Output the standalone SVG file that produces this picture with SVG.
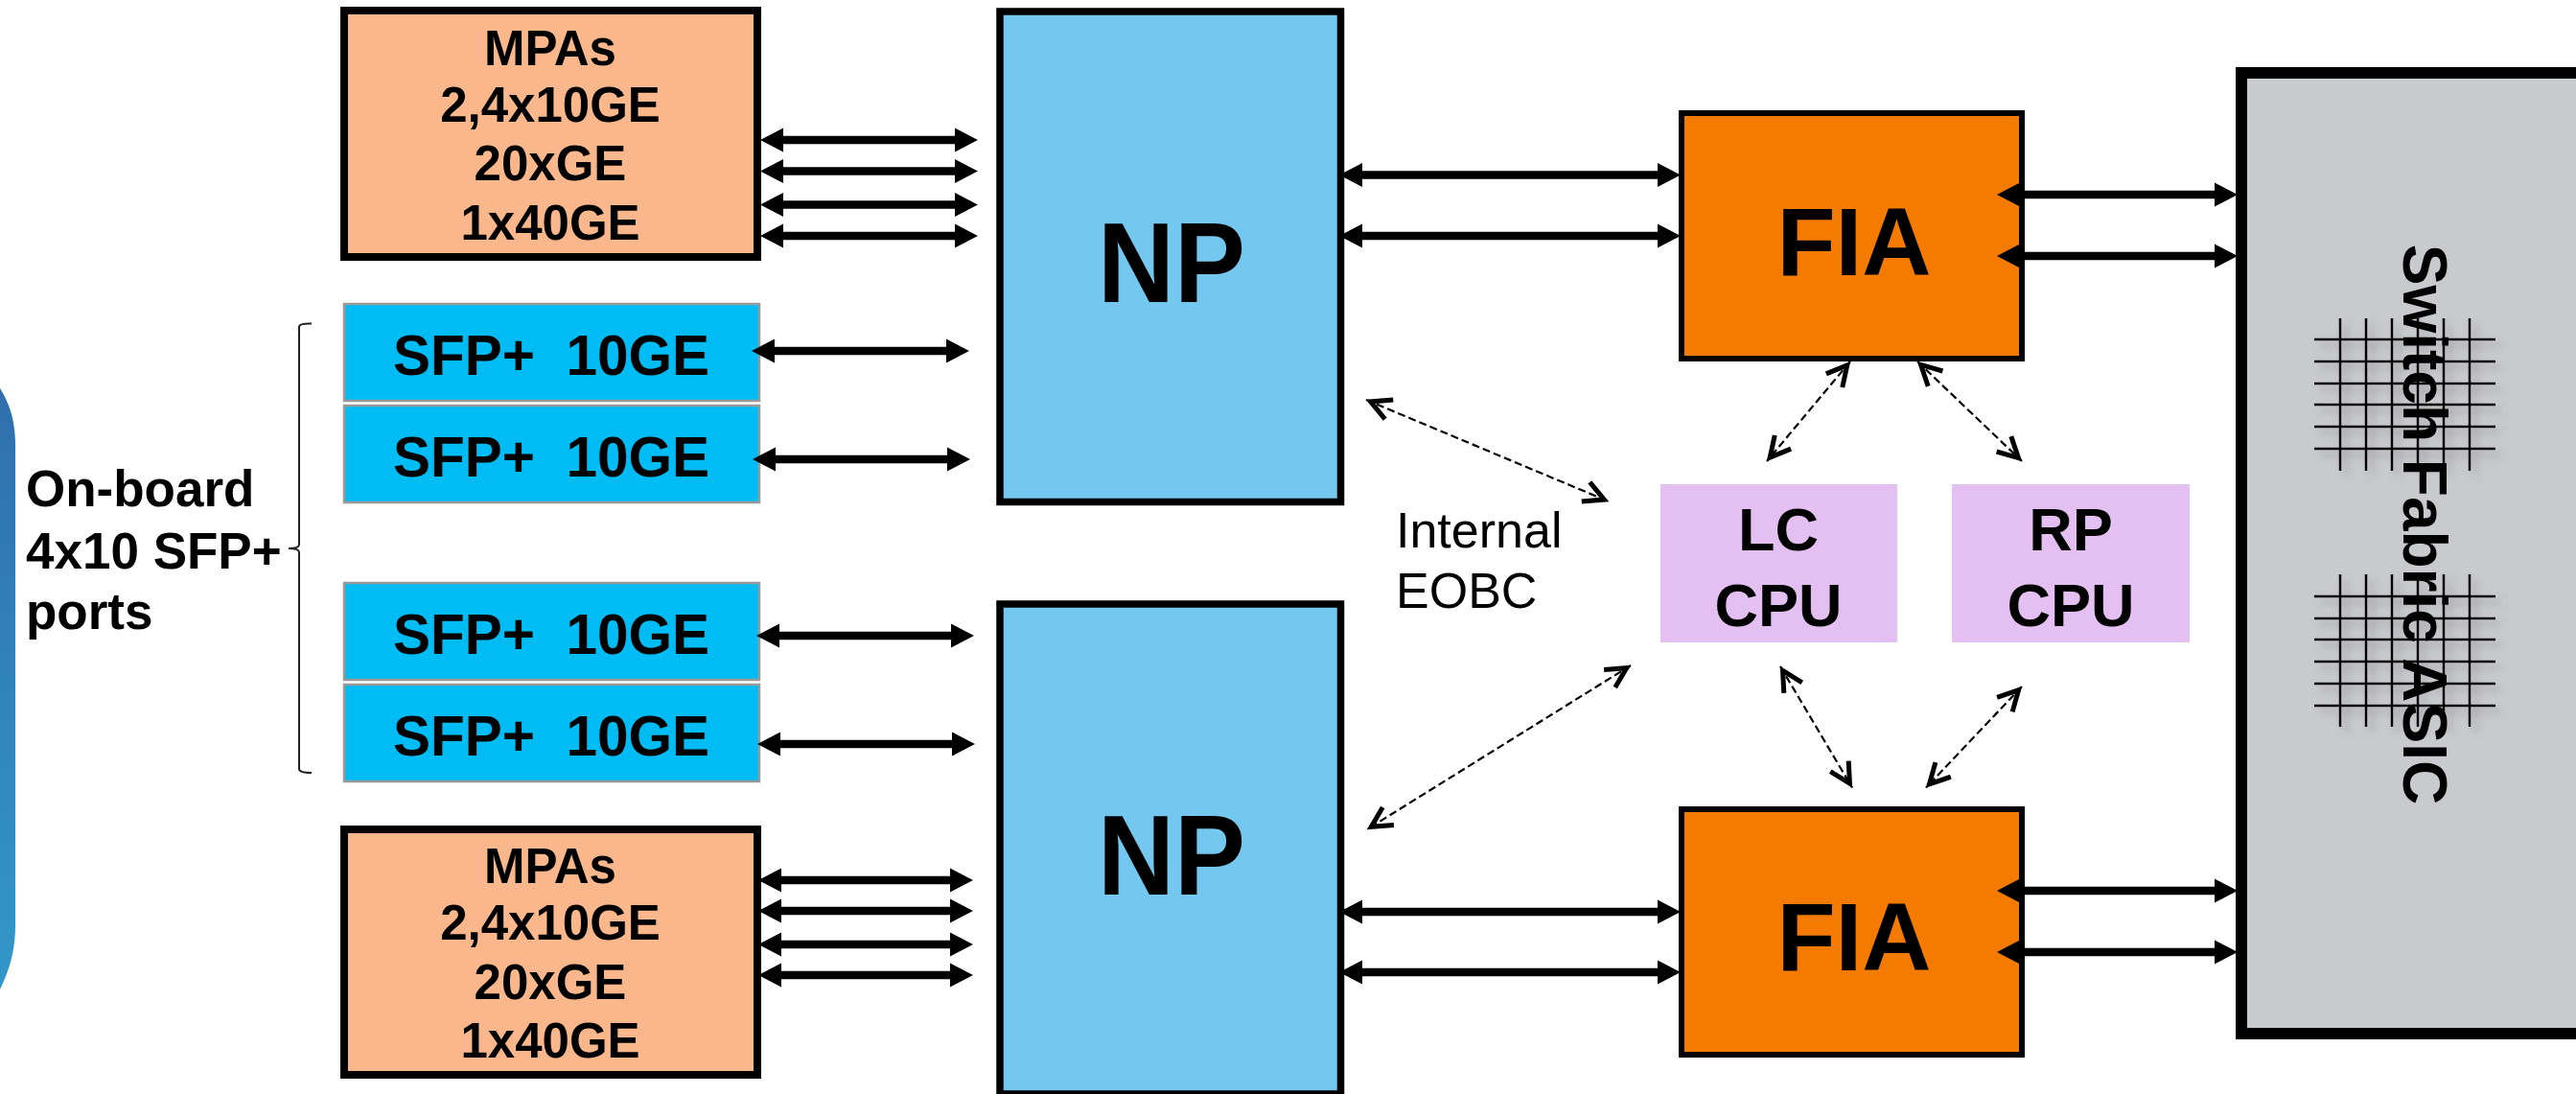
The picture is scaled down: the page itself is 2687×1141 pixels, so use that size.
<svg xmlns="http://www.w3.org/2000/svg" width="2687" height="1141" viewBox="0 0 2687 1141">
<style>
text{font-family:"Liberation Sans",Arial,sans-serif;fill:#000;font-weight:bold;text-anchor:middle}
.mpa{fill:#FBB78C;stroke:#000;stroke-width:8}
.sfp{fill:#00BCF4;stroke:#999;stroke-width:2.5}
.np{fill:#74C8F0;stroke:#000;stroke-width:7.5}
.fia{fill:#F47B00;stroke:#000;stroke-width:6}
.cpu{fill:#E4BFF1}
.t50{font-size:51px}.t58{font-size:58.500px}.t63{font-size:63px}.t52{font-size:53px;text-anchor:start}
.big{font-size:118px}.fiat{font-size:100px}
.reg{font-weight:normal;font-size:52px}
.a{stroke:#000;stroke-width:8.500;marker-start:url(#sh);marker-end:url(#sh);fill:none}
.d{stroke:#000;stroke-width:2.2;stroke-dasharray:8 4;marker-start:url(#oh);marker-end:url(#oh);fill:none}
.g line{stroke:#000;stroke-width:2.500}
</style>
<defs>
<marker id="sh" markerUnits="userSpaceOnUse" markerWidth="24" markerHeight="25" refX="8" refY="12.500" orient="auto-start-reverse" overflow="visible"><path d="M0 0L24 12.500L0 25Z" fill="#000"/></marker>
<marker id="oh" markerUnits="userSpaceOnUse" markerWidth="30" markerHeight="28" refX="27" refY="14" orient="auto-start-reverse" overflow="visible"><path d="M1 3L22 14L1 25" fill="none" stroke="#000" stroke-width="5"/></marker>
<linearGradient id="bl" x1="0" y1="0" x2="0" y2="1"><stop offset="0" stop-color="#2F6FAD"/><stop offset="1" stop-color="#3297C9"/></linearGradient>
<filter id="sd" x="-20%" y="-20%" width="140%" height="140%"><feDropShadow dx="6" dy="6" stdDeviation="4" flood-color="#666" flood-opacity="0.5"/></filter>
</defs>

<path id="left-panel" d="M0 405C8 418 16 435 16 465L16 965C16 995 8 1015 0 1032Z" fill="url(#bl)"/>

<g id="onboard-label">
<path d="M325 337.500Q312 337 312 341L312 568Q312 572 301 572Q312 572 312 576L312 802Q312 806 325 806" fill="none" stroke="#222" stroke-width="2"/>
<text class="t52" x="27" y="528">On-board</text>
<text class="t52" x="27" y="593">4x10 SFP+</text>
<text class="t52" x="27" y="656">ports</text>
</g>

<g id="mpa-top"><rect class="mpa" x="359" y="11" width="431" height="257"/>
<text class="t50" x="574" y="68">MPAs</text><text class="t50" x="574" y="127">2,4x10GE</text><text class="t50" x="574" y="188">20xGE</text><text class="t50" x="574" y="250">1x40GE</text></g>
<g id="sfp-1"><rect class="sfp" x="359" y="317" width="433" height="101"/><text class="t58" x="575" y="391" xml:space="preserve">SFP+  10GE</text></g>
<g id="sfp-2"><rect class="sfp" x="359" y="423" width="433" height="101"/><text class="t58" x="575" y="497" xml:space="preserve">SFP+  10GE</text></g>
<g id="sfp-3"><rect class="sfp" x="359" y="608" width="433" height="101"/><text class="t58" x="575" y="682" xml:space="preserve">SFP+  10GE</text></g>
<g id="sfp-4"><rect class="sfp" x="359" y="714" width="433" height="101"/><text class="t58" x="575" y="788" xml:space="preserve">SFP+  10GE</text></g>
<g id="mpa-bottom"><rect class="mpa" x="359" y="865" width="431" height="256"/>
<text class="t50" x="574" y="921">MPAs</text><text class="t50" x="574" y="980">2,4x10GE</text><text class="t50" x="574" y="1042">20xGE</text><text class="t50" x="574" y="1103">1x40GE</text></g>

<g id="np-top"><rect class="np" x="1043" y="12" width="355.500" height="511.500"/><text class="big" x="1222" y="315" textLength="154" lengthAdjust="spacingAndGlyphs">NP</text></g>
<g id="np-bottom"><rect class="np" x="1043" y="630" width="355.500" height="511"/><text class="big" x="1222" y="933" textLength="154" lengthAdjust="spacingAndGlyphs">NP</text></g>

<g id="fia-top"><rect class="fia" x="1754" y="118" width="355" height="256"/><text class="fiat" x="1934" y="287">FIA</text></g>
<g id="fia-bottom"><rect class="fia" x="1754" y="844" width="355" height="256"/><text class="fiat" x="1934" y="1012">FIA</text></g>

<g id="lc-cpu"><rect class="cpu" x="1732" y="505" width="247" height="165"/><text class="t63" x="1855" y="574">LC</text><text class="t63" x="1855" y="653">CPU</text></g>
<g id="rp-cpu"><rect class="cpu" x="2036" y="505" width="248" height="165"/><text class="t63" x="2160" y="574">RP</text><text class="t63" x="2160" y="653">CPU</text></g>

<g id="eobc-label"><text class="t52 reg" x="1456" y="571">Internal</text><text class="t52 reg" x="1456" y="634">EOBC</text></g>

<g id="switch-fabric">
<rect x="2338" y="76" width="380" height="1002" fill="#C9CACE" stroke="#000" stroke-width="12"/>
<g class="g" filter="url(#sd)">
<line x1="2414" x2="2603" y1="354" y2="354"/><line x1="2414" x2="2603" y1="377" y2="377"/><line x1="2414" x2="2603" y1="400" y2="400"/><line x1="2414" x2="2603" y1="422" y2="422"/><line x1="2414" x2="2603" y1="445" y2="445"/><line x1="2414" x2="2603" y1="468" y2="468"/>
<line x1="2441" x2="2441" y1="332" y2="491"/><line x1="2468" x2="2468" y1="332" y2="491"/><line x1="2495" x2="2495" y1="332" y2="491"/><line x1="2522" x2="2522" y1="332" y2="491"/><line x1="2549" x2="2549" y1="332" y2="491"/><line x1="2576" x2="2576" y1="332" y2="491"/>
</g>
<g class="g" filter="url(#sd)">
<line x1="2414" x2="2603" y1="622" y2="622"/><line x1="2414" x2="2603" y1="645" y2="645"/><line x1="2414" x2="2603" y1="667" y2="667"/><line x1="2414" x2="2603" y1="690" y2="690"/><line x1="2414" x2="2603" y1="713" y2="713"/><line x1="2414" x2="2603" y1="736" y2="736"/>
<line x1="2441" x2="2441" y1="599" y2="758"/><line x1="2468" x2="2468" y1="599" y2="758"/><line x1="2495" x2="2495" y1="599" y2="758"/><line x1="2522" x2="2522" y1="599" y2="758"/><line x1="2549" x2="2549" y1="599" y2="758"/><line x1="2576" x2="2576" y1="599" y2="758"/>
</g>
<text transform="translate(2507 547) rotate(90)" style="font-size:64px">Switch Fabric ASIC</text>
</g>

<g id="connectors">
<line class="a" x1="809" y1="146" x2="1004" y2="146"/>
<line class="a" x1="809" y1="178.500" x2="1004" y2="178.500"/>
<line class="a" x1="809" y1="213.500" x2="1004" y2="213.500"/>
<line class="a" x1="809" y1="246" x2="1004" y2="246"/>
<line class="a" x1="800" y1="366" x2="995" y2="366"/>
<line class="a" x1="801" y1="479" x2="996" y2="479"/>
<line class="a" x1="805" y1="663" x2="1000" y2="663"/>
<line class="a" x1="806" y1="776" x2="1001" y2="776"/>
<line class="a" x1="807" y1="918" x2="999" y2="918"/>
<line class="a" x1="807" y1="950" x2="999" y2="950"/>
<line class="a" x1="807" y1="985" x2="999" y2="985"/>
<line class="a" x1="807" y1="1017" x2="999" y2="1017"/>
<line class="a" x1="1413" y1="182.500" x2="1737" y2="182.500"/>
<line class="a" x1="1413" y1="246" x2="1737" y2="246"/>
<line class="a" x1="1413" y1="951" x2="1737" y2="951"/>
<line class="a" x1="1413" y1="1014" x2="1737" y2="1014"/>
<line class="a" x1="2099" y1="203" x2="2318" y2="203"/>
<line class="a" x1="2099" y1="267" x2="2318" y2="267"/>
<line class="a" x1="2099" y1="929" x2="2318" y2="929"/>
<line class="a" x1="2099" y1="993" x2="2318" y2="993"/>
<line class="d" x1="1425" y1="417" x2="1678" y2="523"/>
<line class="d" x1="1930" y1="377" x2="1843" y2="481"/>
<line class="d" x1="2000" y1="377" x2="2109" y2="481"/>
<line class="d" x1="1701" y1="694" x2="1426" y2="865"/>
<line class="d" x1="1857" y1="695" x2="1932" y2="821.500"/>
<line class="d" x1="2109" y1="716" x2="2009" y2="821.500"/>
</g>
</svg>
